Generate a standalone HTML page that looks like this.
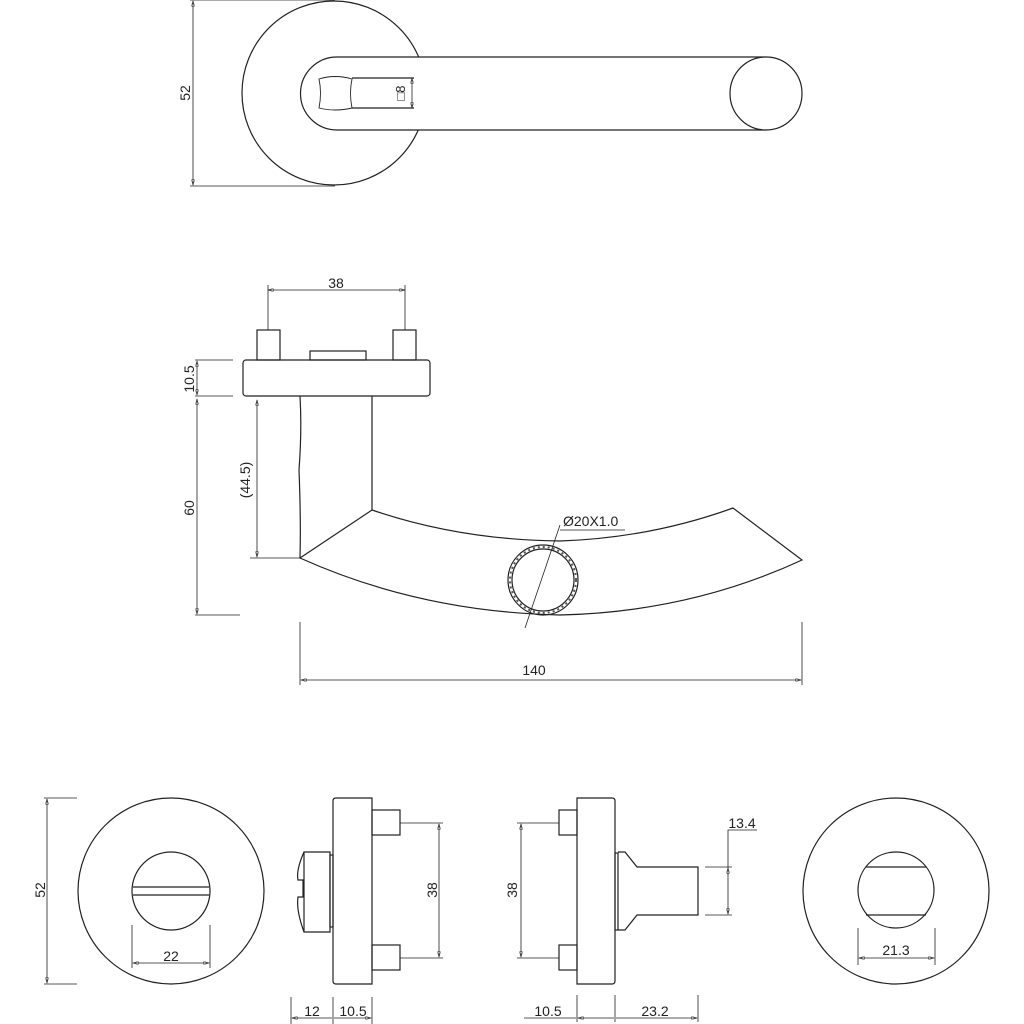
<!DOCTYPE html>
<html><head><meta charset="utf-8"><style>html,body{margin:0;padding:0;background:#fff}svg{display:block}text{font-family:"Liberation Sans",sans-serif;font-size:14px;fill:#222}</style></head><body>
<svg width="1024" height="1024" viewBox="0 0 1024 1024" xmlns="http://www.w3.org/2000/svg">
<defs><marker id="a" viewBox="0 0 10 6" refX="10" refY="3" markerWidth="8" markerHeight="4" orient="auto-start-reverse"><path d="M0,0L10,3L0,6z" fill="none" stroke="#222" stroke-width="1"/></marker></defs>
<g fill="none" stroke="#222" stroke-width="1.2">
<!-- TOP VIEW -->
<circle cx="334" cy="93" r="92" fill="#fff"/>
<path d="M766,57 H337 A36.5,36.5 0 0 0 337,130 H766" fill="#fff"/>
<ellipse cx="766" cy="93.5" rx="36" ry="36.5" fill="#fff"/>
<path d="M319,79 Q335,74 352,79 Q349,93 352,108 Q335,112 319,108 Q322,93 319,79z" stroke-width="0.9"/>
<path d="M352,78 H414 M352,108 H414"/>
<path d="M412,78 V108" stroke-width="0.8" marker-start="url(#a)" marker-end="url(#a)"/>
<path d="M193,1 V185" stroke-width="0.8" marker-start="url(#a)" marker-end="url(#a)"/>
<path d="M190,0 H335 M190,186 H335" stroke-width="0.8"/>
<!-- SIDE VIEW -->
<path d="M268,290 H405" stroke-width="0.8" marker-start="url(#a)" marker-end="url(#a)"/>
<path d="M268,285 V330 M405,285 V330" stroke-width="0.8"/>
<rect x="257" y="330" width="23" height="30"/>
<rect x="393" y="330" width="23" height="30"/>
<rect x="310" y="351" width="56" height="9"/>
<rect x="243" y="360" width="187" height="36" rx="3"/>
<path d="M300,396 Q302,430 299,470 Q301,520 300,558 M372,396 V510"/>
<path d="M300,558 L372,510 Q460,540 560,541 Q650,538 733,508 L802,560 Q690,612 560,615 Q420,612 300,558z"/>
<circle cx="543" cy="580" r="35"/>
<circle cx="543" cy="580" r="31"/>
<circle cx="543" cy="580" r="33" stroke-width="2" stroke-dasharray="2 3" stroke="#555"/>
<path d="M525,628 L560,525" stroke-width="0.8"/>
<path d="M560,530 H625" stroke-width="0.8"/>
<path d="M197,361 V395" stroke-width="0.8" marker-start="url(#a)" marker-end="url(#a)"/>
<path d="M195,360 H233 M195,396 H233" stroke-width="0.8"/>
<path d="M197,399 V614" stroke-width="0.8" marker-start="url(#a)" marker-end="url(#a)"/>
<path d="M195,615 H240" stroke-width="0.8"/>
<path d="M257,400 V557" stroke-width="0.8" marker-start="url(#a)" marker-end="url(#a)"/>
<path d="M250,558 H300" stroke-width="0.8"/>
<path d="M301,680 H801" stroke-width="0.8" marker-start="url(#a)" marker-end="url(#a)"/>
<path d="M300,622 V685 M802,622 V685" stroke-width="0.8"/>
<!-- BOTTOM LEFT -->
<path d="M47,799 V983" stroke-width="0.8" marker-start="url(#a)" marker-end="url(#a)"/>
<path d="M44,798 H77 M44,984 H77" stroke-width="0.8"/>
<circle cx="171" cy="891" r="93"/>
<circle cx="171" cy="891" r="39"/>
<path d="M133,887 H209 M133,895 H209"/>
<path d="M132,925 V968 M210,925 V968" stroke-width="0.8"/>
<path d="M133,963 H209" stroke-width="0.8" marker-start="url(#a)" marker-end="url(#a)"/>
<path d="M336,798 H372 V984 H336 Q333,984 333,981 V801 Q333,798 336,798z"/>
<rect x="372" y="810" width="28" height="25"/>
<rect x="372" y="945" width="28" height="25"/>
<rect x="330" y="855" width="3" height="72"/>
<path d="M330,852 H304 Q296,870 298,880 H303 V897 H298 Q296,910 304,932 H330z"/>
<path d="M304,852 V932"/>
<path d="M400,823 H443 M400,958 H443" stroke-width="0.8"/>
<path d="M439,824 V957" stroke-width="0.8" marker-start="url(#a)" marker-end="url(#a)"/>
<path d="M291,997 V1024 M333,997 V1024 M372,997 V1024" stroke-width="0.8"/>
<path d="M292,1018 H332 M334,1018 H371" stroke-width="0.8" marker-start="url(#a)" marker-end="url(#a)"/>
<!-- BOTTOM RIGHT SIDE -->
<path d="M577,798 H612 Q615,798 615,801 V981 Q615,984 612,984 H577z"/>
<rect x="559" y="810" width="18" height="25"/>
<rect x="559" y="945" width="18" height="25"/>
<rect x="615" y="853" width="3" height="77"/>
<path d="M618,852 H625 L637,867 H698 V915 H637 L625,930 H618"/>
<path d="M517,823 H559 M517,958 H559" stroke-width="0.8"/>
<path d="M521,824 V957" stroke-width="0.8" marker-start="url(#a)" marker-end="url(#a)"/>
<path d="M705,867 H732 M705,915 H732" stroke-width="0.8"/>
<path d="M728,868 V914" stroke-width="0.8" marker-start="url(#a)" marker-end="url(#a)"/>
<path d="M728,868 V830 H757" stroke-width="0.8"/>
<path d="M577,995 V1022 M615,995 V1022 M698,995 V1022" stroke-width="0.8"/>
<path d="M524,1018 H576" stroke-width="0.8"/>
<path d="M578,1018 H614 M616,1018 H697" stroke-width="0.8" marker-start="url(#a)" marker-end="url(#a)"/>
<!-- RIGHT CIRCLE -->
<circle cx="896" cy="891" r="93"/>
<circle cx="896" cy="890" r="38"/>
<path d="M866,867 H926 M866,915 H926"/>
<path d="M858,928 V965 M935,928 V965" stroke-width="0.8"/>
<path d="M859,958 H934" stroke-width="0.8" marker-start="url(#a)" marker-end="url(#a)"/>
</g>
<text x="405" y="93" transform="rotate(-90 405 93)" text-anchor="middle" style="font-size:13px">□8</text>
<text x="190" y="93" transform="rotate(-90 190 93)" text-anchor="middle">52</text>
<text x="336" y="288" text-anchor="middle">38</text>
<text x="194" y="379" transform="rotate(-90 194 379)" text-anchor="middle">10.5</text>
<text x="194" y="508" transform="rotate(-90 194 508)" text-anchor="middle">60</text>
<text x="250" y="480" transform="rotate(-90 250 480)" text-anchor="middle">(44.5)</text>
<text x="563" y="526">Ø20X1.0</text>
<text x="534" y="675" text-anchor="middle">140</text>
<text x="45" y="890" transform="rotate(-90 45 890)" text-anchor="middle">52</text>
<text x="171" y="961" text-anchor="middle">22</text>
<text x="437" y="890" transform="rotate(-90 437 890)" text-anchor="middle">38</text>
<text x="312" y="1016" text-anchor="middle">12</text>
<text x="353" y="1016" text-anchor="middle">10.5</text>
<text x="517" y="890" transform="rotate(-90 517 890)" text-anchor="middle">38</text>
<text x="742" y="828" text-anchor="middle">13.4</text>
<text x="548" y="1016" text-anchor="middle">10.5</text>
<text x="655" y="1016" text-anchor="middle">23.2</text>
<text x="896" y="955" text-anchor="middle">21.3</text>
</svg>
</body></html>
